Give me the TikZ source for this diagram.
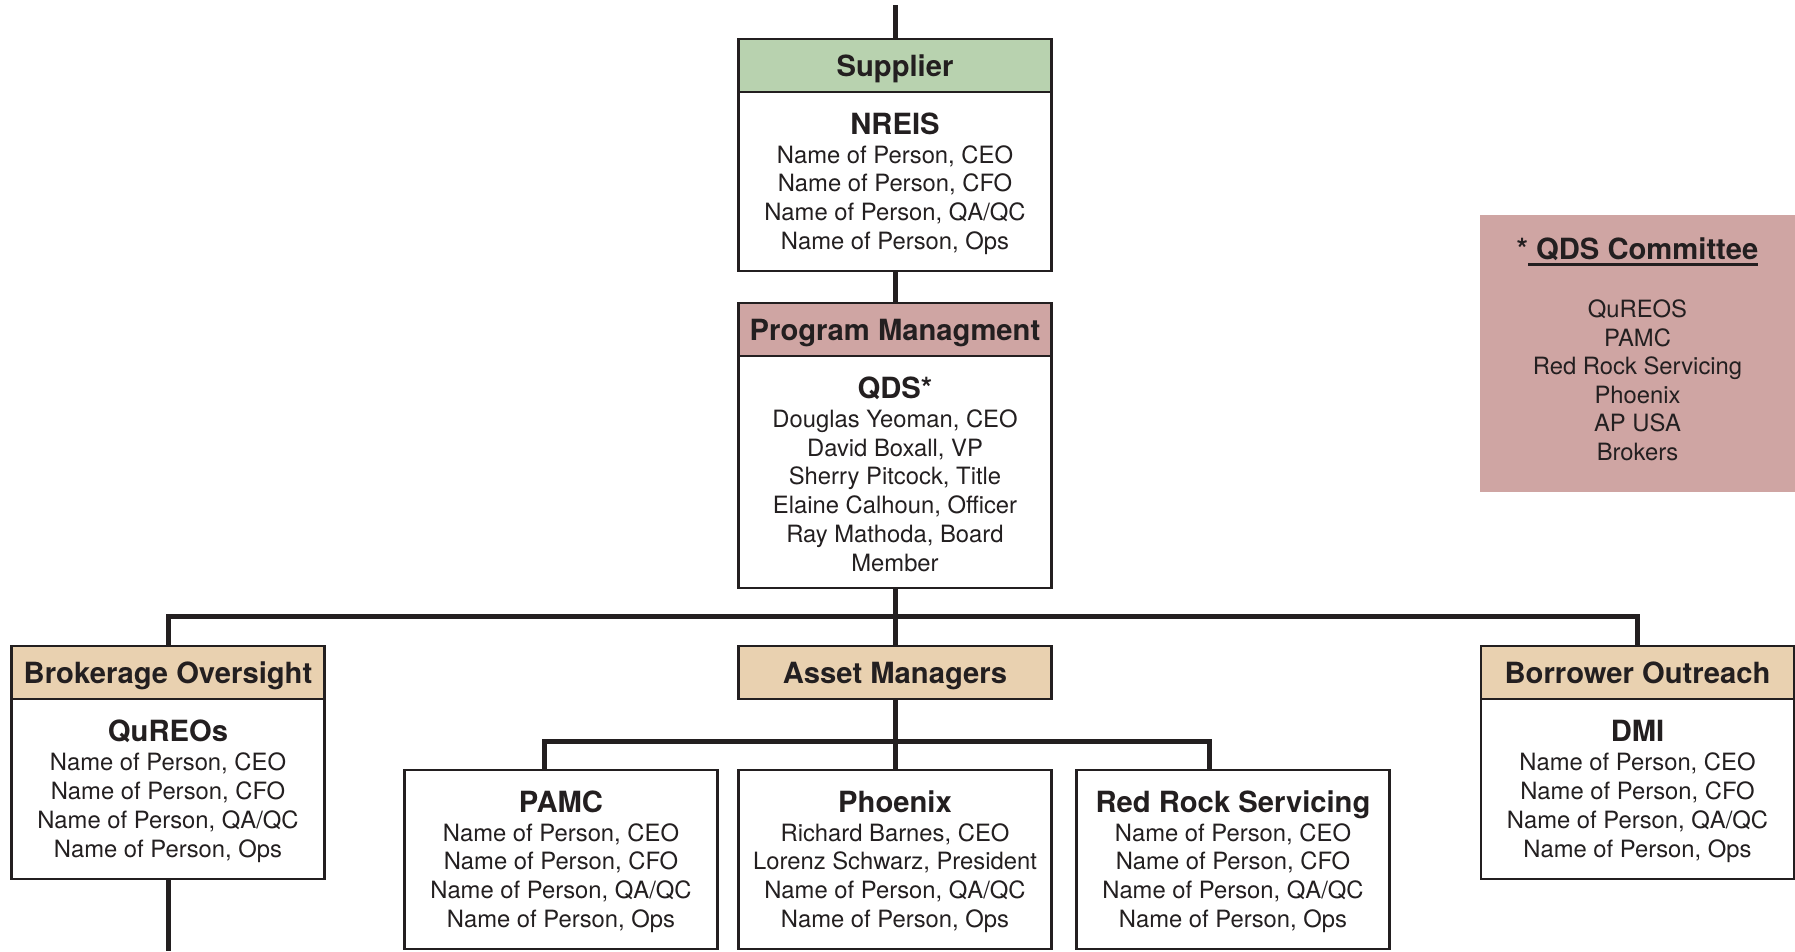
\documentclass[tikz,border=0pt]{standalone}
\usepackage{fontspec}
\setmainfont{TeX Gyre Heros}
\definecolor{ink}{HTML}{231F20}
\definecolor{supgreen}{HTML}{B8D2AF}
\definecolor{pmpink}{HTML}{CFA5A3}
\definecolor{tanhdr}{HTML}{E9D1B0}
\newcommand\myul[1]{\setbox0\hbox{#1}\rlap{\rule[-6pt]{\wd0}{2.5pt}}\box0}
\newcommand\ttl[1]{{\bfseries\fontsize{29.2}{29}\selectfont\rule{0pt}{26pt}#1}}
\newcommand\cttl[1]{{\bfseries\fontsize{29.2}{29}\selectfont #1}}
\begin{document}
\begin{tikzpicture}[x=1pt,y=-1pt,line join=miter,
  hdr/.style={draw=ink, line width=2.5pt, minimum width=313pt, minimum height=53pt, inner sep=0pt, text depth=0pt, text=ink, font=\bfseries\fontsize{29.2}{30}\selectfont},
  bodybox/.style={draw=ink, fill=white, line width=2.5pt, minimum width=313pt, inner sep=0pt, align=center, text=ink, font=\fontsize{23.8}{28.8}\selectfont},
  conn/.style={draw=ink, line width=5pt}]
\useasboundingbox (0,0) rectangle (1795,951);
% central column
\node[hdr, fill=supgreen] (supH) at (895,65.5) {Supplier};
\node[bodybox, minimum height=179pt] (supB) at (895,181.5) {\ttl{NREIS}\\Name of Person, CEO\\Name of Person, CFO\\Name of Person, QA/QC\\Name of Person, Ops};
\node[hdr, fill=pmpink] (pmH) at (895,329.5) {Program Managment};
\node[bodybox, minimum height=232pt] (pmB) at (895,472) {\ttl{QDS*}\\Douglas Yeoman, CEO\\David Boxall, VP\\Sherry Pitcock, Title\\Elaine Calhoun, Officer\\Ray Mathoda, Board\\Member};
% second row
\node[hdr, fill=tanhdr] (boH) at (168,672.5) {Brokerage Oversight};
\node[bodybox, minimum height=180pt] (boB) at (168,789) {\ttl{QuREOs}\\Name of Person, CEO\\Name of Person, CFO\\Name of Person, QA/QC\\Name of Person, Ops};
\node[hdr, fill=tanhdr] (amH) at (895,672.5) {Asset Managers};
\node[hdr, fill=tanhdr] (boroH) at (1637.5,672.5) {Borrower Outreach};
\node[bodybox, minimum height=180pt] (boroB) at (1637.5,789) {\ttl{DMI}\\Name of Person, CEO\\Name of Person, CFO\\Name of Person, QA/QC\\Name of Person, Ops};
% third row
\node[bodybox, minimum height=179pt] (pamc) at (561,859.5) {\ttl{PAMC}\\Name of Person, CEO\\Name of Person, CFO\\Name of Person, QA/QC\\Name of Person, Ops};
\node[bodybox, minimum height=179pt] (phx) at (895,859.5) {\ttl{Phoenix}\\Richard Barnes, CEO\\Lorenz Schwarz, President\\Name of Person, QA/QC\\Name of Person, Ops};
\node[bodybox, minimum height=179pt] (rr) at (1233,859.5) {\ttl{Red Rock Servicing}\\Name of Person, CEO\\Name of Person, CFO\\Name of Person, QA/QC\\Name of Person, Ops};
% committee
\node[fill=pmpink, minimum width=315pt, minimum height=277pt, inner sep=0pt] (cmt) at (1637.5,353.5) {};
\node[inner sep=0pt, align=center, text=ink, font=\fontsize{23.8}{28.6}\selectfont] (cmtTxt) at (1637.5,349.5) {\cttl{*\myul{\ QDS Committee}}\\[29pt]QuREOS\\PAMC\\Red Rock Servicing\\Phoenix\\AP USA\\Brokers};
% connectors
\coordinate (topEnd) at (895,5);
\coordinate (busL) at (168,616.5);
\coordinate (busR) at (1637.5,616.5);
\coordinate (sbL) at (544,741.5);
\coordinate (sbR) at (1209,741.5);
\coordinate (brkEnd) at (168,951);
\draw[conn] (topEnd) -- (supH.north);
\draw[conn] (supB.south) -- (pmH.north);
\draw[conn] (pmB.south) -- (amH.north);
\draw[conn] (boH.north) -- (busL) -- (busR) -- (boroH.north);
\draw[conn] (amH.south) -- (phx.north);
\draw[conn] (pamc.north -| sbL) -- (sbL) -- (sbR) -- (rr.north -| sbR);
\draw[conn] (boB.south) -- (brkEnd);
\end{tikzpicture}
\end{document}
